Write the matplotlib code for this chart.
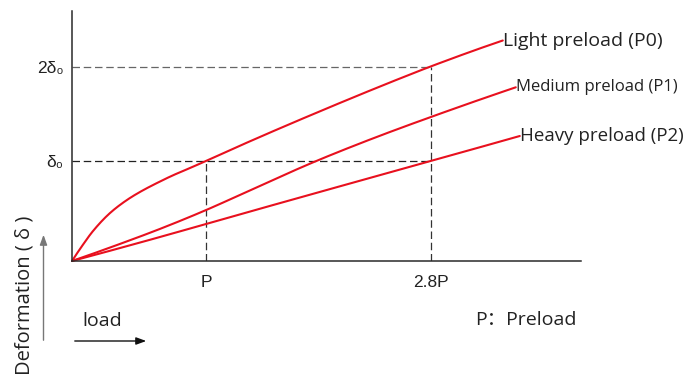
import numpy as np
import matplotlib
matplotlib.use('Agg')
import matplotlib.pyplot as plt

# load in units of P (tick "2.8P" sits at 2.68 on the drawing), deformation in units of delta0
light_x = [0, 0.075, 0.157, 0.284, 0.410, 0.507, 0.657, 0.754, 0.881, 1.0,
           1.254, 1.552, 1.851, 2.149, 2.448, 2.679, 3.216]
light_y = [0, 0.15, 0.30, 0.48, 0.61, 0.69, 0.795, 0.857, 0.93, 1.0,
           1.153, 1.327, 1.497, 1.663, 1.825, 1.946, 2.205]
medium_x = [0, 0.328, 0.657, 1.0, 1.403, 1.813, 2.239, 2.679, 3.313]
medium_y = [0, 0.156, 0.321, 0.509, 0.752, 0.994, 1.222, 1.44, 1.737]
heavy_x = [0, 0.657, 1.0, 1.701, 2.679, 3.343]
heavy_y = [0, 0.24, 0.37, 0.635, 1.0, 1.25]
labels = ['Light preload (P0)', 'Medium preload (P1)', 'Heavy preload (P2)']

xtick_pos = [1.0, 2.68]
xtick_labels = ['P', '2.8P']
ytick_pos = [1.0, 1.945]
ytick_labels = ['δ₀', '2δ₀']

RED = '#e8101e'
W, H = 695, 377


def pchip(xs, ys, n=400):
    # monotone cubic through the read points, only to draw them without kinks
    x = np.asarray(xs, float)
    y = np.asarray(ys, float)
    h = np.diff(x)
    delta = np.diff(y) / h
    d = np.zeros_like(x)
    for k in range(1, len(x) - 1):
        if delta[k - 1] * delta[k] > 0:
            w1 = 2 * h[k] + h[k - 1]
            w2 = h[k] + 2 * h[k - 1]
            d[k] = (w1 + w2) / (w1 / delta[k - 1] + w2 / delta[k])
    d[0] = ((2 * h[0] + h[1]) * delta[0] - h[0] * delta[1]) / (h[0] + h[1])
    d[-1] = ((2 * h[-1] + h[-2]) * delta[-1] - h[-1] * delta[-2]) / (h[-1] + h[-2])
    xx = np.linspace(x[0], x[-1], n)
    idx = np.clip(np.searchsorted(x, xx) - 1, 0, len(x) - 2)
    t = (xx - x[idx]) / h[idx]
    h00 = 2 * t ** 3 - 3 * t ** 2 + 1
    h10 = t ** 3 - 2 * t ** 2 + t
    h01 = -2 * t ** 3 + 3 * t ** 2
    h11 = t ** 3 - t ** 2
    yy = h00 * y[idx] + h10 * h[idx] * d[idx] + h01 * y[idx + 1] + h11 * h[idx] * d[idx + 1]
    return xx, yy


fig = plt.figure(figsize=(W / 100, H / 100), dpi=100)
ax = fig.add_axes([72 / W, (H - 261) / H, (581 - 72) / W, (261 - 11) / H])
ax.set_xlim(0, 3.80)
ax.set_ylim(0, 2.50)
for s in ['top', 'right']:
    ax.spines[s].set_visible(False)
for s in ['left', 'bottom']:
    ax.spines[s].set_color('#2a2a2a')
    ax.spines[s].set_linewidth(1.1)

# guide lines
ax.plot([0, xtick_pos[1]], [ytick_pos[1]] * 2, color='#666666', lw=0.9, ls=(0, (6, 3)))
ax.plot([0, xtick_pos[1]], [ytick_pos[0]] * 2, color='#222222', lw=0.9, ls=(0, (6, 3)))
ax.plot([xtick_pos[0]] * 2, [0, ytick_pos[0]], color='#333333', lw=0.9, ls=(0, (6, 3)))
ax.plot([xtick_pos[1]] * 2, [0, ytick_pos[1]], color='#333333', lw=0.9, ls=(0, (6, 3)))

sizes = [14, 12, 13.5]
for xs, ys, lab, fs in zip([light_x, medium_x, heavy_x], [light_y, medium_y, heavy_y], labels, sizes):
    sx, sy = pchip(xs, ys)
    ax.plot(sx, sy, color=RED, lw=1.5, solid_capstyle='round', clip_on=False)
    ax.text(xs[-1], ys[-1], lab, ha='left', va='center', fontsize=fs,
            family='Open Sans', color='#222222', clip_on=False)

ax.set_xticks(xtick_pos, xtick_labels, family='Liberation Sans', fontsize=12.5, color='#222222')
ax.set_yticks(ytick_pos, ytick_labels, family=['Liberation Sans', 'DejaVu Sans'], fontsize=12.5,
              color='#222222')
ax.tick_params(axis='x', length=0, pad=10)
ax.tick_params(axis='y', length=0, pad=6)

# bottom annotations
fig.text(82 / W, 1 - 321 / H, 'load', ha='left', va='center', fontsize=14, family='Open Sans',
         color='#222222')
fig.text(475 / W, 1 - 320 / H, 'P：Preload', ha='left', va='center', fontsize=14,
         family=['Open Sans', 'Noto Sans CJK SC'], color='#222222')
fig.text(24.5 / W, 1 - 216 / H, 'Deformation ( δ )', rotation=90, ha='center', va='top',
         fontsize=14.5, family='Open Sans', color='#222222')
fig.add_artist(matplotlib.patches.FancyArrowPatch(
    (72 / W, 1 - 341 / H), (149 / W, 1 - 341 / H), transform=fig.transFigure,
    arrowstyle='-|>,head_length=6,head_width=2.2', color='#111111', lw=1.0))
fig.add_artist(matplotlib.patches.FancyArrowPatch(
    (43.5 / W, 1 - 343 / H), (43.5 / W, 1 - 232 / H), transform=fig.transFigure,
    arrowstyle='-|>,head_length=6,head_width=2.2', color='#777777', lw=1.0))

fig.savefig('out.png', dpi=100)
